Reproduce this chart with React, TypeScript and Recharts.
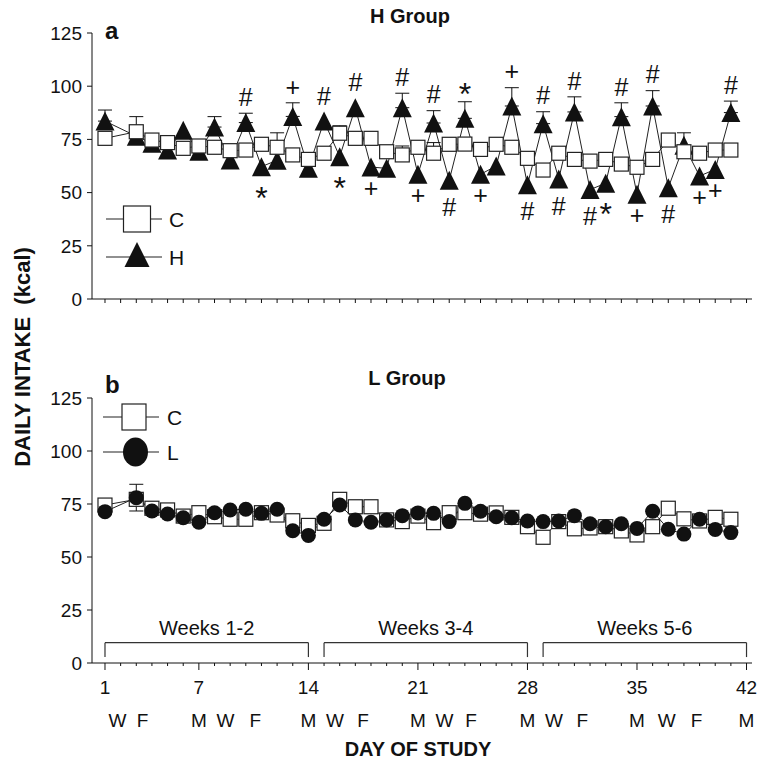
import React from "react";
import { LineChart, Line, XAxis, YAxis, ErrorBar, ReferenceLine } from "recharts";

const FONT = "'Liberation Sans', Arial, Helvetica, sans-serif";
const INK = "#111";

// study days with data (day 2 was not recorded)
const days = [
	1, 3, 4, 5, 6, 7, 8, 9, 10, 11, 12, 13, 14, 15, 16, 17, 18, 19, 20, 21,
	22, 23, 24, 25, 26, 27, 28, 29, 30, 31, 32, 33, 34, 35, 36, 37, 38, 39, 40, 41,
];

// panel a: H group study
const hStudyC = [
	75.5, 78.6, 74.7, 73.5, 70.8, 71.9, 71.3, 69.7, 70, 72.7, 71.3, 67.7, 65.6, 68.5, 77.9, 75.5, 75.5, 69.2, 67.7, 71.3,
	68.5, 72.7, 72.8, 70.3, 72.7, 71.3, 66.1, 60.6, 68.5, 65.6, 64.8, 65.6, 63.4, 61.9, 65.6, 74.7, 69.2, 68.5, 70, 70,
];
const hStudyH = [
	83.6, 76.5, 73.2, 70, 79.3, 69.4, 80.8, 65.3, 82.9, 62.2, 65.2, 85.8, 61.4, 83.6, 66.9, 89.9, 62, 61.4, 89.9, 58.6,
	82.7, 55.8, 84.9, 58.6, 62.5, 90.7, 53.7, 82.4, 56.4, 87.9, 51.4, 54.4, 85.7, 49.2, 90.7, 52.3, 72.2, 57.8, 60.9, 87.6,
];
const hStudySemC = [
	0, 7.1, 0, 0, 0, 0, 0, 0, 0, 0, 6.8, 0, 0, 0, 3.5, 0, 0, 0, 4.2, 0,
	5, 0, 0, 0, 0, 0, 0, 0, 0, 0, 0, 0, 0, 0, 0, 0, 0, 0, 0, 0,
];
const hStudySemH = [
	5.2, 0, 0, 0, 0, 0, 4.9, 0, 4.4, 0, 0, 6.4, 0, 0, 0, 0, 0, 0, 6.8, 0,
	5.8, 0, 7.8, 0, 0, 8.6, 0, 5.6, 0, 7.1, 0, 0, 6.5, 0, 7.2, 0, 5.9, 0, 0, 5.4,
];
const hStudyMarks = [
	"", "", "", "", "", "", "", "", "#", "*", "", "+", "", "#", "*", "#", "+", "", "#", "+",
	"#", "#", "*", "+", "", "+", "#", "#", "#", "#", "#", "*", "#", "+", "#", "#", "", "+", "+", "#",
];

// panel b: L group study
const lStudyC = [
	74.5, 77.2, 73, 72.2, 69.3, 70.9, 69, 67.8, 67.8, 70.9, 69.8, 67.1, 64.9, 65.9, 77.2, 73.7, 73.7, 67.5, 66.7, 69.3,
	66.2, 70.9, 70.9, 70.2, 70.8, 68.7, 64.3, 59.3, 66.7, 63.3, 63.7, 64.3, 62.3, 60.4, 64.3, 73, 68, 67, 68.7, 67.8,
];
const lStudyL = [
	71.4, 78, 71.7, 70.3, 68.5, 66.4, 70.9, 72.2, 72.5, 70.6, 72.5, 62.4, 60.2, 67.8, 74.5, 67.5, 66.4, 67.5, 69.5, 70.8,
	70.6, 66.7, 75.3, 71.6, 69, 68.5, 67, 66.7, 67, 69.5, 65.7, 64.3, 65.7, 63.5, 71.6, 63.1, 60.8, 67.8, 63, 61.5,
];
const lStudySemC = [
	0, 0, 0, 0, 0, 0, 0, 0, 0, 0, 0, 0, 0, 0, 3, 0, 0, 0, 0, 0,
	0, 0, 0, 0, 0, 0, 0, 0, 0, 0, 0, 0, 0, 0, 0, 0, 0, 0, 0, 0,
];
const lStudySemL = [
	0, 6.3, 0, 0, 0, 0, 0, 0, 0, 0, 0, 0, 0, 0, 0, 0, 0, 0, 0, 0,
	0, 0, 0, 0, 0, 0, 0, 0, 0, 0, 0, 0, 0, 0, 0, 0, 0, 0, 0, 0,
];

// axes
const yTicks = [0, 25, 50, 75, 100, 125];
const dayLabels = [1, 7, 14, 21, 28, 35, 42];
const weekdayLetters = ["W", "F", "M", "W", "F", "M", "W", "F", "M", "W", "F", "M", "W", "F", "M", "W", "F", "M"];
const weekdayDays = [1.8, 3.4, 7, 8.7, 10.6, 14, 15.7, 17.5, 21, 22.7, 24.4, 28, 29.7, 31.5, 35, 36.9, 38.8, 42];
const weekBlocks = [
	{ label: "Weeks 1-2", from: 1, to: 14 },
	{ label: "Weeks 3-4", from: 15, to: 28 },
	{ label: "Weeks 5-6", from: 29, to: 42 },
];

const allDays = Array.from({ length: 42 }, (_, i) => i + 1);
const bottomTicks = Array.from(new Set([...allDays, ...weekdayDays])).sort((a, b) => a - b);
const X_DOMAIN: [number, number] = [0.17, 42.35];

const topData = days.map((day, i) => ({
	day,
	c: hStudyC[i],
	h: hStudyH[i],
	semH: hStudySemH[i],
	cErr: hStudySemC[i] ? [0, hStudySemC[i]] : null,
	hErr: hStudySemH[i] ? [0, hStudySemH[i]] : null,
	mark: hStudyMarks[i],
}));

const bottomData = days.map((day, i) => ({
	day,
	c: lStudyC[i],
	l: lStudyL[i],
	cErr: lStudySemC[i] || null,
	lErr: lStudySemL[i] || null,
}));

// where the significance symbol hangs: on the error cap for peaks, on the point for dips
const markAnchor = (d: any) => {
	if (!d.mark) return null;
	return d.h > d.c ? d.h + d.semH : d.h;
};

const renderSquare = (props: any) => {
	const { cx, cy, index } = props;
	if (cx == null || cy == null) return <g key={`sq-${index}`} />;
	return (
		<rect key={`sq-${index}`} x={cx - 7} y={cy - 7} width={14} height={14} fill="#fff" stroke="#222" strokeWidth={1.2} />
	);
};

const renderTriangle = (props: any) => {
	const { cx, cy, index } = props;
	if (cx == null || cy == null) return <g key={`tr-${index}`} />;
	return (
		<polygon
			key={`tr-${index}`}
			points={`${cx},${cy - 9.5} ${cx - 9.5},${cy + 9.5} ${cx + 9.5},${cy + 9.5}`}
			fill={INK}
		/>
	);
};

const renderCircle = (props: any) => {
	const { cx, cy, index } = props;
	if (cx == null || cy == null) return <g key={`ci-${index}`} />;
	return <circle key={`ci-${index}`} cx={cx} cy={cy} r={7.5} fill={INK} />;
};

const renderMark = (props: any) => {
	const { cx, cy, index, payload } = props;
	if (cx == null || cy == null || !payload || !payload.mark) return <g key={`mk-${index}`} />;
	const sym = payload.mark;
	const above = payload.h > payload.c;
	let y = above ? cy - (payload.semH > 0 ? 16 : 25) : cy + (sym === "#" ? 27 : sym === "+" ? 21 : 23);
	const star = sym === "*";
	if (star) y += 8;
	return (
		<text key={`mk-${index}`} x={cx} y={y} dy="0.35em" textAnchor="middle" fontSize={star ? 32 : 25} fill={INK}>
			{sym}
		</text>
	);
};

const TopTick = (props: any) => {
	const { x, y } = props;
	return <line x1={x} x2={x} y1={y} y2={y + 4} stroke={INK} strokeWidth={1} />;
};

const BottomTick = (props: any) => {
	const { x, y, payload } = props;
	const v = payload.value;
	const labelled = dayLabels.includes(v);
	const wd = weekdayDays.indexOf(v);
	return (
		<g>
			{Number.isInteger(v) && (
				<line x1={x} x2={x} y1={y} y2={y + (labelled ? 7 : 3)} stroke={INK} strokeWidth={1} />
			)}
			{labelled && (
				<text x={x} y={y + 24} dy="0.35em" textAnchor="middle" fontSize={19} fill={INK}>
					{v}
				</text>
			)}
			{wd >= 0 && (
				<text x={x} y={y + 57} dy="0.35em" textAnchor="middle" fontSize={19} fill={INK}>
					{weekdayLetters[wd]}
				</text>
			)}
		</g>
	);
};

const yAxisProps = {
	type: "number" as const,
	domain: [0, 125],
	ticks: yTicks,
	interval: 0 as const,
	width: 92,
	tickSize: 5,
	tickMargin: 5,
	axisLine: { stroke: INK },
	tickLine: { stroke: INK },
	tick: { fontSize: 19, fill: INK },
};

export default function App() {
	return (
		<div style={{ position: "absolute", left: 0, top: 0, width: 760, height: 769, fontFamily: FONT, background: "#fff" }}>
			<div style={{ position: "absolute", left: 0, top: 0 }}>
				<LineChart width={760} height={312} data={topData} margin={{ top: 33, right: 8, bottom: 0, left: 0 }}>
					<XAxis
						dataKey="day"
						type="number"
						domain={X_DOMAIN}
						allowDataOverflow
						ticks={allDays}
						interval={0}
						tickLine={false}
						tickSize={0}
						tickMargin={0}
						tick={TopTick}
						height={13}
						axisLine={{ stroke: INK }}
					/>
					<YAxis {...yAxisProps} />
					<Line dataKey="h" stroke="#222" strokeWidth={1} dot={renderTriangle} activeDot={false} isAnimationActive={false}>
						<ErrorBar dataKey="hErr" direction="y" width={7} stroke={INK} strokeWidth={1} />
					</Line>
					<Line dataKey="c" stroke="#222" strokeWidth={1} dot={renderSquare} activeDot={false} isAnimationActive={false}>
						<ErrorBar dataKey="cErr" direction="y" width={7} stroke={INK} strokeWidth={1} />
					</Line>
					<Line dataKey={markAnchor} stroke="none" dot={renderMark} activeDot={false} isAnimationActive={false} />
				</LineChart>
			</div>

			<div style={{ position: "absolute", left: 0, top: 360 }}>
				<LineChart width={760} height={409} data={bottomData} margin={{ top: 38, right: 8, bottom: 36, left: 0 }}>
					<XAxis
						dataKey="day"
						type="number"
						domain={X_DOMAIN}
						allowDataOverflow
						ticks={bottomTicks}
						interval={0}
						tickLine={false}
						tickSize={0}
						tickMargin={0}
						tick={BottomTick}
						height={70}
						axisLine={{ stroke: INK }}
					/>
					<YAxis {...yAxisProps} />
					{weekBlocks.map((w) => (
						<React.Fragment key={w.label}>
							<ReferenceLine
								segment={[{ x: w.from, y: 9.6 }, { x: w.to, y: 9.6 }]}
								stroke="#333"
								strokeWidth={1.2}
								label={{ value: w.label, position: "top", offset: 8, fontSize: 20, fill: INK }}
							/>
							<ReferenceLine segment={[{ x: w.from, y: 9.6 }, { x: w.from, y: 2.8 }]} stroke="#333" strokeWidth={1.2} />
							<ReferenceLine segment={[{ x: w.to, y: 9.6 }, { x: w.to, y: 2.8 }]} stroke="#333" strokeWidth={1.2} />
						</React.Fragment>
					))}
					<Line dataKey="c" stroke="#222" strokeWidth={1} dot={renderSquare} activeDot={false} isAnimationActive={false}>
						<ErrorBar dataKey="cErr" direction="y" width={7} stroke={INK} strokeWidth={1} />
					</Line>
					<Line dataKey="l" stroke="#222" strokeWidth={1} dot={renderCircle} activeDot={false} isAnimationActive={false}>
						<ErrorBar dataKey="lErr" direction="y" width={7} stroke={INK} strokeWidth={1} />
					</Line>
				</LineChart>
			</div>

			<svg width={760} height={769} style={{ position: "absolute", left: 0, top: 0, pointerEvents: "none" }}>
				<g fill={INK} fontFamily={FONT}>
					<text
						x={22}
						y={357}
						transform="rotate(-90 22 357)"
						textAnchor="middle"
						dominantBaseline="central"
						fontSize={22}
						fontWeight="bold"
						style={{ whiteSpace: "pre" }}
					>
						{"DAILY INTAKE  (kcal)"}
					</text>
					<text x={418} y={756} textAnchor="middle" fontSize={20} fontWeight="bold">
						DAY OF STUDY
					</text>

					<text x={105} y={38.5} fontSize={24} fontWeight="bold">a</text>
					<text x={410} y={23} textAnchor="middle" fontSize={20} fontWeight="bold">H Group</text>
					<text x={105} y={393} fontSize={24} fontWeight="bold">b</text>
					<text x={407} y={385} textAnchor="middle" fontSize={20} fontWeight="bold">L Group</text>

					{/* legend, panel a */}
					<line x1={106} x2={162} y1={219} y2={219} stroke="#222" strokeWidth={1.2} />
					<rect x={123.5} y={206} width={27} height={26} fill="#fff" stroke="#222" strokeWidth={1.2} />
					<text x={169} y={219} dominantBaseline="central" fontSize={21}>C</text>
					<line x1={106} x2={162} y1={257} y2={257} stroke="#222" strokeWidth={1.2} />
					<polygon points="137,242 124.5,267 149.5,267" fill={INK} />
					<text x={169} y={257} dominantBaseline="central" fontSize={21}>H</text>

					{/* legend, panel b */}
					<line x1={103} x2={159} y1={417} y2={417} stroke="#222" strokeWidth={1.2} />
					<rect x={122} y={404} width={24} height={26} fill="#fff" stroke="#222" strokeWidth={1.2} />
					<text x={167} y={417} dominantBaseline="central" fontSize={21}>C</text>
					<line x1={103} x2={159} y1={452} y2={452} stroke="#222" strokeWidth={1.2} />
					<ellipse cx={135.5} cy={452} rx={12.5} ry={14.5} fill={INK} />
					<text x={167} y={452} dominantBaseline="central" fontSize={21}>L</text>
				</g>
			</svg>
		</div>
	);
}
